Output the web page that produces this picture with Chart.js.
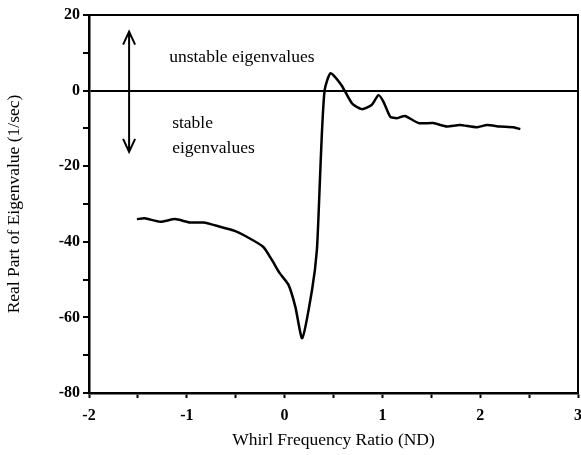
<!DOCTYPE html>
<html>
<head>
<meta charset="utf-8">
<script src="https://cdn.jsdelivr.net/npm/chart.js@4/dist/chart.umd.min.js"></script>
<style>
  html, body { margin: 0; padding: 0; background: #fff; }
  #wrap { width: 581px; height: 455px; }
</style>
</head>
<body>
<div id="wrap"><canvas id="myChart" width="581" height="455"></canvas></div>
<script>
// whirl frequency ratio (ND)
var whirlRatio = [-1.51, -1.43, -1.27, -1.12, -0.97, -0.83, -0.66, -0.51, -0.42, -0.22, -0.13, -0.05,
  0.04, 0.11, 0.18, 0.28, 0.33, 0.36, 0.38, 0.41, 0.47, 0.58, 0.69, 0.79, 0.89, 0.96, 1.01, 1.08,
  1.15, 1.23, 1.37, 1.52, 1.66, 1.79, 1.96, 2.07, 2.20, 2.34, 2.41];
// real part of eigenvalue (1/sec)
var realPart = [-34.0, -33.8, -34.7, -34.0, -34.9, -34.9, -36.0, -37.1, -38.2, -41.3, -44.8, -48.3,
  -51.4, -57.2, -65.5, -52.8, -42.2, -24.5, -12.0, 0.2, 4.6, 1.5, -3.4, -4.9, -3.8, -1.2, -2.9, -6.9,
  -7.3, -6.7, -8.6, -8.6, -9.5, -9.1, -9.7, -9.1, -9.5, -9.7, -10.2];

var xTickLabels = [-2, -1, 0, 1, 2, 3];
var yTickLabels = [-80, -60, -40, -20, 0, 20];

var serif = '"Liberation Serif", "DejaVu Serif", serif';

var points = whirlRatio.map(function (x, i) { return { x: x, y: realPart[i] }; });

// box, stability arrow and labels
var extras = {
  id: 'extras',
  afterDraw: function (chart) {
    var c = chart.ctx, a = chart.chartArea;
    var xs = chart.scales.x, ys = chart.scales.y;
    c.save();
    c.strokeStyle = '#000';
    c.lineWidth = 2;
    c.beginPath();
    c.moveTo(a.left, a.top); c.lineTo(a.right, a.top); c.lineTo(a.right, a.bottom);
    c.stroke();

    // double arrow
    var ax = xs.getPixelForValue(-1.59);
    var top = ys.getPixelForValue(15.6), bot = ys.getPixelForValue(-16.2);
    c.lineWidth = 2;
    c.beginPath();
    c.moveTo(ax, top); c.lineTo(ax, bot);
    c.moveTo(ax - 6, top + 13); c.lineTo(ax, top); c.lineTo(ax + 6, top + 13);
    c.moveTo(ax - 6, bot - 13); c.lineTo(ax, bot); c.lineTo(ax + 6, bot - 13);
    c.stroke();

    c.fillStyle = '#000';
    c.font = '17.5px ' + serif;
    c.textBaseline = 'middle';
    c.textAlign = 'left';
    c.fillText('unstable eigenvalues', xs.getPixelForValue(-1.18), ys.getPixelForValue(8.9));
    c.fillText('stable', xs.getPixelForValue(-1.15), ys.getPixelForValue(-8.6));
    c.fillText('eigenvalues', xs.getPixelForValue(-1.15), ys.getPixelForValue(-15.2));
    c.restore();
  }
};

var ctx = document.getElementById('myChart').getContext('2d');
var myChart = new Chart(ctx, {
  type: 'line',
  data: {
    datasets: [{
      data: points,
      borderColor: '#000',
      borderWidth: 2.5,
      pointRadius: 0,
      tension: 0.2,
      fill: false
    }]
  },
  options: {
    responsive: false,
    animation: false,
    layout: { padding: { top: 15, right: 3, left: 0, bottom: 0 } },
    plugins: {
      legend: { display: false },
      tooltip: { enabled: false }
    },
    scales: {
      x: {
        type: 'linear',
        min: -2, max: 3,
        afterFit: function (s) { s.height = 62; s.paddingRight = 0; s.paddingLeft = 0; },
        afterBuildTicks: function (s) {
          var t = [];
          for (var v = -2; v <= 3.001; v += 0.5) t.push({ value: Math.round(v * 10) / 10 });
          s.ticks = t;
        },
        ticks: {
          color: '#000',
          font: { family: serif, size: 16, weight: 'bold' },
          padding: 8,
          maxRotation: 0,
          autoSkip: false,
          callback: function (v) { return xTickLabels.indexOf(v) >= 0 ? String(v) : ''; }
        },
        grid: {
          drawOnChartArea: false,
          tickLength: 5,
          tickColor: '#000',
          tickWidth: 2
        },
        border: { color: '#000', width: 2.5 },
        title: {
          display: true,
          text: 'Whirl Frequency Ratio (ND)',
          color: '#000',
          font: { family: serif, size: 17.5 },
          padding: { top: 0 }
        }
      },
      y: {
        min: -80, max: 20,
        afterFit: function (s) { s.width = 89; s.paddingTop = 0; s.paddingBottom = 0; },
        afterBuildTicks: function (s) {
          var t = [];
          for (var v = -80; v <= 20; v += 10) t.push({ value: v });
          s.ticks = t;
        },
        ticks: {
          color: '#000',
          font: { family: serif, size: 16, weight: 'bold' },
          padding: 3,
          autoSkip: false,
          callback: function (v) { return yTickLabels.indexOf(v) >= 0 ? String(v) : ''; }
        },
        grid: {
          drawOnChartArea: true,
          color: function (c) { return c.tick && c.tick.value === 0 ? '#000' : 'rgba(0,0,0,0)'; },
          lineWidth: 2,
          tickLength: 6,
          tickColor: '#000',
          tickWidth: 2
        },
        border: { color: '#000', width: 2.5 },
        title: {
          display: true,
          text: 'Real Part of Eigenvalue (1/sec)',
          color: '#000',
          font: { family: serif, size: 17.5 },
          padding: { bottom: 4 }
        }
      }
    }
  },
  plugins: [extras]
});
</script>
</body>
</html>
